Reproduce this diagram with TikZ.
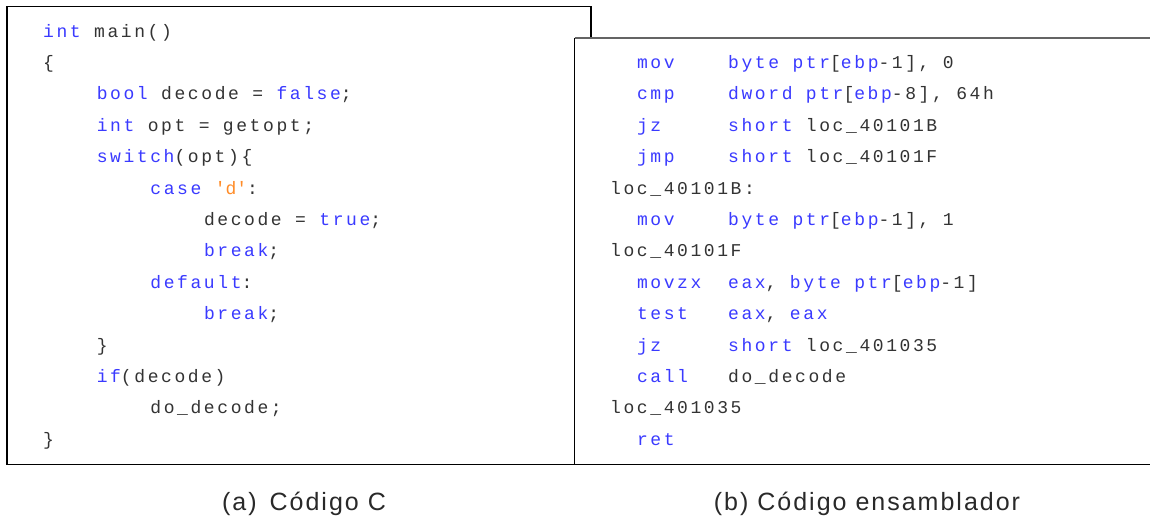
\documentclass[tikz,border=0pt]{standalone}
\usepackage{fontspec}
\newfontfamily\codefont[LetterSpace=14.4]{Liberation Mono}
\newfontfamily\capfont[LetterSpace=8]{Liberation Sans}
\definecolor{kw}{RGB}{58,58,255}
\definecolor{tx}{RGB}{51,51,51}
\definecolor{st}{RGB}{255,140,40}
\definecolor{edge}{RGB}{100,100,100}
\newlength\cw \setlength\cw{13.4pt}
\newcommand\sk[1]{\hspace*{#1\cw}}
\newcommand\K[1]{\textcolor{kw}{#1}}
\newcommand\Q[1]{\textcolor{st}{#1}}
\tikzset{
  code/.style={anchor=base west, inner sep=0pt, text=tx, font=\codefont\fontsize{18}{18}\selectfont},
  capt/.style={anchor=base, inner sep=0pt, text=tx!80!black, font=\capfont\fontsize{25}{25}\selectfont},
  frame/.style={draw=black, line width=1.2pt}
}
\begin{document}
\begin{tikzpicture}[x=1pt,y=-1pt]
\useasboundingbox (0,0) rectangle (1150,517);
\fill[white] (0,0) rectangle (1150,517);
% left box
\draw[frame] (7,6.5) rectangle (591,464.5);
% left code
\def\lx{43}
\node[code] (L1)  at (\lx,37.0)  {\K{int}\sk{1}main()};
\node[code] (L2)  at (\lx,68.4)  {\{};
\node[code] (L3)  at (\lx,99.8)  {\sk{4}\K{bool}\sk{1}decode\sk{1}=\sk{1}\K{false};};
\node[code] (L4)  at (\lx,131.2) {\sk{4}\K{int}\sk{1}opt\sk{1}=\sk{1}getopt;};
\node[code] (L5)  at (\lx,162.6) {\sk{4}\K{switch}(opt)\{};
\node[code] (L6)  at (\lx,194.0) {\sk{8}\K{case}\sk{1}\Q{\textquotesingle d\textquotesingle}:};
\node[code] (L7)  at (\lx,225.4) {\sk{12}decode\sk{1}=\sk{1}\K{true};};
\node[code] (L8)  at (\lx,256.8) {\sk{12}\K{break};};
\node[code] (L9)  at (\lx,288.2) {\sk{8}\K{default}:};
\node[code] (L10) at (\lx,319.6) {\sk{12}\K{break};};
\node[code] (L11) at (\lx,351.0) {\sk{4}\}};
\node[code] (L12) at (\lx,382.4) {\sk{4}\K{if}(decode)};
\node[code] (L13) at (\lx,413.8) {\sk{8}do\_decode;};
\node[code] (L14) at (\lx,445.2) {\}};
% right box
\fill[white] (574.5,38) rectangle (1150,464.5);
\draw[black, line width=1.2pt] (574.5,464.5) -- (574.5,38);
\draw[edge, line width=2pt] (574.5,38) -- (1150,38);
\draw[black, line width=1.4pt] (7,464.5) -- (1150,464.5);
% right code
\def\rx{610}
\node[code] (R2)  at (\rx,68.4)  {\sk{2}\K{mov}\sk{4}\K{byte}\sk{1}\K{ptr}[\K{ebp}-1],\sk{1}0};
\node[code] (R3)  at (\rx,99.8)  {\sk{2}\K{cmp}\sk{4}\K{dword}\sk{1}\K{ptr}[\K{ebp}-8],\sk{1}64h};
\node[code] (R4)  at (\rx,131.2) {\sk{2}\K{jz}\sk{5}\K{short}\sk{1}loc\_40101B};
\node[code] (R5)  at (\rx,162.6) {\sk{2}\K{jmp}\sk{4}\K{short}\sk{1}loc\_40101F};
\node[code] (R6)  at (\rx,194.0) {loc\_40101B:};
\node[code] (R7)  at (\rx,225.4) {\sk{2}\K{mov}\sk{4}\K{byte}\sk{1}\K{ptr}[\K{ebp}-1],\sk{1}1};
\node[code] (R8)  at (\rx,256.8) {loc\_40101F};
\node[code] (R9)  at (\rx,288.2) {\sk{2}\K{movzx}\sk{2}\K{eax},\sk{1}\K{byte}\sk{1}\K{ptr}[\K{ebp}-1]};
\node[code] (R10) at (\rx,319.6) {\sk{2}\K{test}\sk{3}\K{eax},\sk{1}\K{eax}};
\node[code] (R11) at (\rx,351.0) {\sk{2}\K{jz}\sk{5}\K{short}\sk{1}loc\_401035};
\node[code] (R12) at (\rx,382.4) {\sk{2}\K{call}\sk{3}do\_decode};
\node[code] (R13) at (\rx,413.8) {loc\_401035};
\node[code] (R14) at (\rx,445.2) {\sk{2}\K{ret}};
% captions
\node[capt] (capA) at (304,510.7) {(a)\hspace{4pt} Código C};
\node[capt] (capB) at (867,510.7) {(b) Código ensamblador};
\end{tikzpicture}
\end{document}
